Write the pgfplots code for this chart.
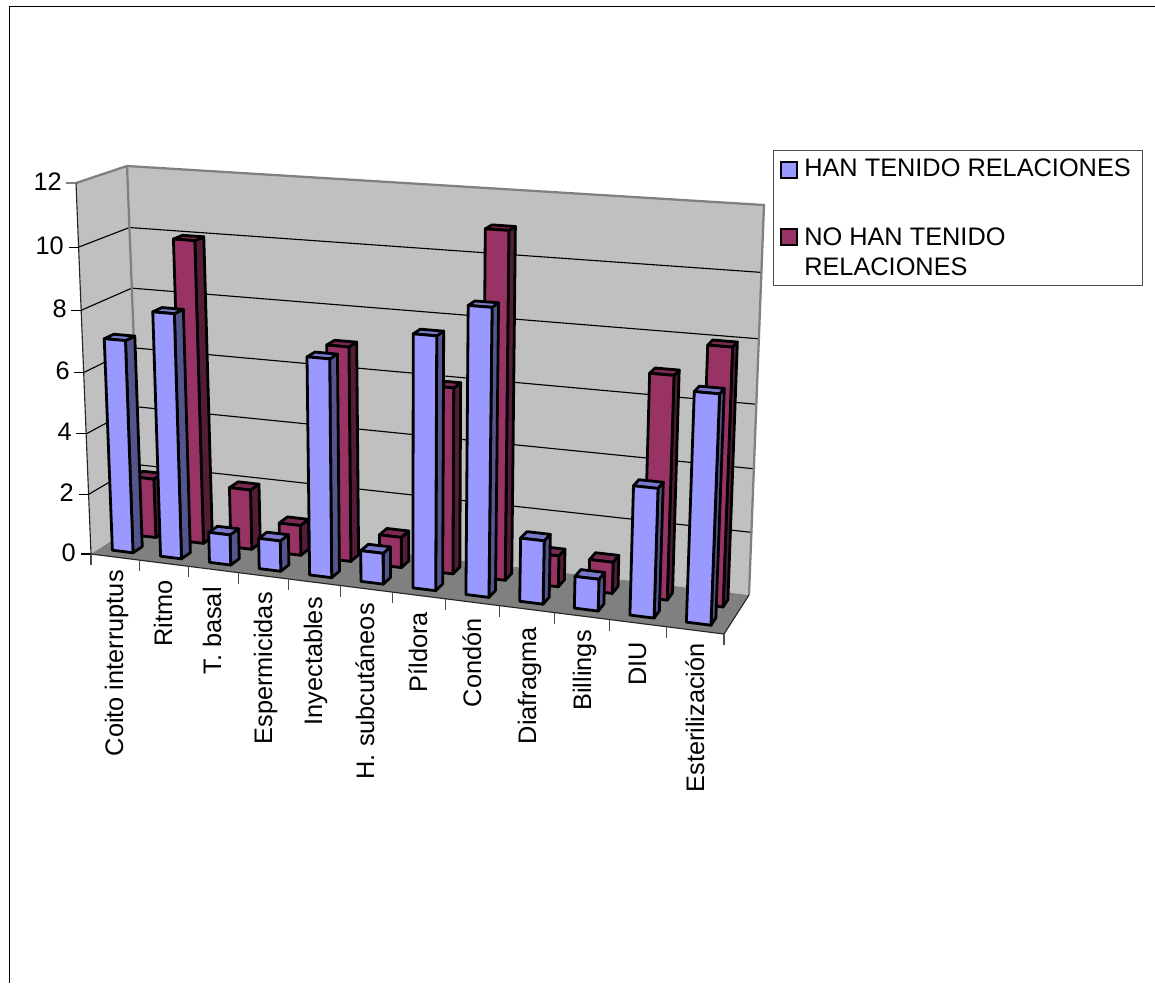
\documentclass[border=0pt]{standalone}
\usepackage{pgfplots}
\usepackage{pgfplotstable}
\usepackage{fontspec}
\setmainfont{Liberation Sans}
\pgfplotsset{compat=1.18}

\definecolor{wallgray}{HTML}{C0C0C0}
\definecolor{floorgray}{HTML}{808080}
\definecolor{blueFront}{HTML}{9999FF}
\definecolor{blueSide}{HTML}{55558E}
\definecolor{blueTop}{HTML}{7A7ACC}
\definecolor{wineFront}{HTML}{993366}
\definecolor{wineSide}{HTML}{551C38}
\definecolor{wineTop}{HTML}{7A2952}

% number of respondents per method
\pgfplotstableread{
idx han nohan
0   7   2
1   8   10
2   1   2
3   1   1
4   7   7
5   1   1
6   8   6
7   9   11
8   2   1
9   1   1
10  4   7
11  7   8
}\methods

% slight perspective foreshortening along an axis
\tikzset{declare function={warp(\t,\r)=\t/(\r-(\r-1)*\t);}}

% blend of the eight corners of the plot box
\newcommand{\tri}[8]{((1-\D)*((1-\V)*((1-\U)*#1+\U*#2)+\V*((1-\U)*#3+\U*#4))+\D*((1-\V)*((1-\U)*#5+\U*#6)+\V*((1-\U)*#7+\U*#8)))}

% \setpt{name}{category position}{depth}{value}: page position of a box point
\newcommand{\setpt}[4]{%
  \pgfmathsetmacro\U{warp((#2)/12,1.10)}%
  \pgfmathsetmacro\V{warp((#4)/12,1.044)}%
  \pgfmathsetmacro\D{#3}%
  \pgfmathsetmacro\X{\tri{91}{724}{76}{740}{141}{749}{127}{764}}%
  \pgfmathsetmacro\Y{\tri{554}{634}{183}{226}{522}{595}{166}{205}}%
  \expandafter\let\csname #1x\endcsname\X
  \expandafter\let\csname #1y\endcsname\Y
}

% \columnbar{category}{value}{depth front}{depth back}{front}{side}{top}
\newcommand{\columnbar}[7]{%
  \pgfmathsetmacro\uA{#1+0.27}%
  \pgfmathsetmacro\uB{#1+0.70}%
  \setpt{a}{\uA}{#3}{0}\setpt{b}{\uB}{#3}{0}%
  \setpt{c}{\uB}{#3}{#2}\setpt{e}{\uA}{#3}{#2}%
  \setpt{f}{\uB}{#4}{0}\setpt{g}{\uB}{#4}{#2}\setpt{h}{\uA}{#4}{#2}%
  \addplot[fill=#6,draw=black,line width=2.1pt,line join=round]
    coordinates {(\bx,\by)(\fx,\fy)(\gx,\gy)(\cx,\cy)} -- cycle;
  \addplot[fill=#7,draw=black,line width=2.1pt,line join=round]
    coordinates {(\ex,\ey)(\cx,\cy)(\gx,\gy)(\hx,\hy)} -- cycle;
  \addplot[fill=#5,draw=black,line width=2.1pt,line join=round]
    coordinates {(\ax,\ay)(\bx,\by)(\cx,\cy)(\ex,\ey)} -- cycle;
}

\newcommand{\catlabel}[3]{\node[rotate=90,anchor=base east,inner sep=0pt,font=\fontsize{19pt}{23pt}\selectfont] at (axis cs:#1,#2) {#3};}
\newcommand{\vallabel}[3]{\node[anchor=east,inner sep=0pt,font=\fontsize{19pt}{23pt}\selectfont] at (axis cs:#1,#2) {#3};}

\begin{document}
\begin{tikzpicture}
\path[use as bounding box] (0,0) rectangle (866.25pt,737.25pt);
\begin{axis}[
  x=0.75pt,y=0.75pt,
  xmin=0,xmax=1155,ymin=0,ymax=983,
  y dir=reverse,
  hide axis,
  clip=true,
]
  % chart frame
  \addplot[black,line width=0.7pt] coordinates {(9,983)(9,6)(1155,6)};

  % walls and floor
  \setpt{p}{0}{0}{0}\setpt{q}{0}{1}{0}\setpt{r}{0}{1}{12}\setpt{s}{0}{0}{12}
  \addplot[fill=wallgray,draw=none] coordinates {(\px,\py)(\qx,\qy)(\rx,\ry)(\sx,\sy)} -- cycle;
  \setpt{t}{12}{1}{0}\setpt{w}{12}{1}{12}
  \addplot[fill=wallgray,draw=none] coordinates {(\qx,\qy)(\tx,\ty)(\wx,\wy)(\rx,\ry)} -- cycle;
  \setpt{z}{12}{0}{0}
  \addplot[fill=floorgray,draw=none] coordinates {(\px,\py)(\zx,\zy)(\tx,\ty)(\qx,\qy)} -- cycle;

  % grid lines across both walls
  \pgfplotsforeachungrouped \v in {2,4,...,10}{
    \setpt{i}{0}{0}{\v}\setpt{j}{0}{1}{\v}\setpt{k}{12}{1}{\v}
    \addplot[black,line width=0.85pt] coordinates {(\ix,\iy)(\jx,\jy)(\kx,\ky)};
  }
  % wall edges
  \addplot[floorgray,line width=1.7pt] coordinates {(\sx,\sy)(\rx,\ry)(\wx,\wy)(\tx,\ty)};
  \addplot[floorgray,line width=1.7pt] coordinates {(\rx,\ry)(\qx,\qy)};
  % axis lines on the floor and the value axis
  \addplot[black!85,line width=0.85pt] coordinates {(\sx,\sy)(\px,\py)(\zx,\zy)(\tx,\ty)};

  % value axis ticks
  \pgfplotsforeachungrouped \v in {0,2,...,10}{
    \setpt{i}{0}{0}{\v}
    \pgfmathsetmacro\tickx{\ix-10}
    \addplot[black,line width=0.8pt] coordinates {(\ix,\iy)(\tickx,\iy)};
  }
  \addplot[floorgray,line width=1.5pt] coordinates {(\sx,\sy)(66,\sy)};
  % category ticks
  \pgfplotsforeachungrouped \c in {0,...,12}{
    \setpt{i}{\c}{0}{0}
    \pgfmathsetmacro\ticky{\iy+11}
    \addplot[black!70,line width=0.8pt] coordinates {(\ix,\iy)(\ix,\ticky)};
  }

  % rear row, then front row
  \pgfplotsforeachungrouped \c in {0,...,11}{
    \pgfplotstablegetelem{\c}{nohan}\of\methods
    \let\val\pgfplotsretval
    \columnbar{\c}{\val}{0.64}{0.83}{wineFront}{wineSide}{wineTop}
  }
  \pgfplotsforeachungrouped \c in {0,...,11}{
    \pgfplotstablegetelem{\c}{han}\of\methods
    \let\val\pgfplotsretval
    \columnbar{\c}{\val}{0.17}{0.36}{blueFront}{blueSide}{blueTop}
  }

  % value labels
  \vallabel{62}{182}{12}
  \vallabel{64}{246}{10}
  \vallabel{67}{309}{8}
  \vallabel{70}{371}{6}
  \vallabel{72}{432}{4}
  \vallabel{74}{493}{2}
  \vallabel{76}{553}{0}

  % category labels
  \catlabel{123}{570}{Coito interruptus}
  \catlabel{172}{580}{Ritmo}
  \catlabel{221}{587}{T. basal}
  \catlabel{272}{592}{Espermicidas}
  \catlabel{322}{597}{Inyectables}
  \catlabel{374}{603}{H. subcutáneos}
  \catlabel{427}{612}{Píldora}
  \catlabel{481}{618}{Condón}
  \catlabel{536}{627}{Diafragma}
  \catlabel{591}{630}{Billings}
  \catlabel{646}{642}{DIU}
  \catlabel{704}{643}{Esterilización}

  % legend
  \addplot[fill=white,draw=black!70,line width=0.7pt] coordinates {(773,150)(1142,150)(1142,285)(773,285)} -- cycle;
  \addplot[fill=blueFront,draw=black,line width=1.7pt] coordinates {(781,162)(797,162)(797,178)(781,178)} -- cycle;
  \addplot[fill=wineFront,draw=black,line width=1.7pt] coordinates {(781,229)(797,229)(797,245)(781,245)} -- cycle;
  \node[anchor=west,inner sep=0pt,font=\fontsize{19pt}{23pt}\selectfont] at (axis cs:804,168) {HAN TENIDO RELACIONES};
  \node[anchor=west,inner sep=0pt,font=\fontsize{19pt}{23pt}\selectfont] at (axis cs:804,237) {NO HAN TENIDO};
  \node[anchor=west,inner sep=0pt,font=\fontsize{19pt}{23pt}\selectfont] at (axis cs:804,267) {RELACIONES};
\end{axis}
\end{tikzpicture}
\end{document}
